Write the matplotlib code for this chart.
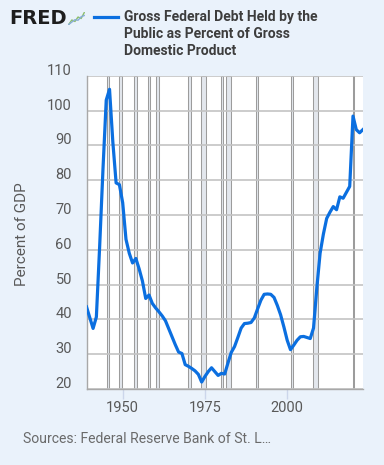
import matplotlib

matplotlib.use("Agg")
import matplotlib.pyplot as plt
from matplotlib.lines import Line2D
from matplotlib.transforms import ScaledTranslation

# annual values
years = list(range(1939, 2024))
debt_pct_gdp = [
    43.6, 40.5, 37.4, 40.7, 61.0, 83.0, 103.0, 106.1, 91.0, 79.2,   # 1939-1948
    78.7, 73.5, 63.0, 59.0, 56.2, 57.5, 54.5, 51.0, 46.0, 47.0,     # 1949-1958
    44.6, 43.3, 42.2, 41.0, 39.6, 37.3, 35.0, 32.7, 30.6, 30.2,     # 1959-1968
    27.0, 26.5, 25.9, 25.2, 24.2, 22.0, 23.6, 25.0, 26.1, 25.0,     # 1969-1978
    23.9, 24.5, 24.3, 27.5, 30.5, 32.2, 34.8, 37.5, 38.8, 38.9,     # 1979-1988
    39.1, 40.4, 43.0, 45.5, 47.2, 47.3, 47.2, 46.3, 44.0, 41.3,     # 1989-1998
    37.8, 34.0, 31.3, 32.6, 34.0, 35.0, 35.1, 34.8, 34.5, 37.5,     # 1999-2008
    49.0, 59.0, 64.5, 69.0, 70.8, 72.4, 71.5, 75.2, 74.8, 76.5,     # 2009-2018
    78.2, 98.4, 94.5, 93.6, 94.5,                                   # 2019-2023
]

# NBER recessions as fractional years (start, end)
recessions = [
    (1945.08, 1945.75), (1948.83, 1949.75), (1953.5, 1954.33),
    (1957.58, 1958.25), (1960.25, 1961.08), (1969.92, 1970.83),
    (1973.83, 1975.17), (1980.0, 1980.5), (1981.5, 1982.83),
    (1990.5, 1991.17), (2001.17, 2001.83), (2007.92, 2009.42),
    (2020.08, 2020.25),
]

y_ticks = list(range(20, 111, 10))
x_ticks = [1950, 1975, 2000]

# little FRED logo sparkline
icon_a = [0, 1.5, 1, 2.5, 2, 4]
icon_b = [0, 0.8, 1.6, 1.4, 2.6, 3]

BG = "#eaf2fb"
LINE = "#0b6fe0"
GRID = "#c3c3c3"
TEXT = "#595959"

plt.rcParams["font.family"] = ["Roboto", "DejaVu Sans"]

W, H = 384, 465
fig = plt.figure(figsize=(W / 100, H / 100), dpi=100, facecolor=BG)


def fx(px):
    return px / W


def fy(py):
    return 1 - py / H


left, right, top, bottom = 86.5, 363.3, 75.7, 389.0
ax = fig.add_axes([fx(left), fy(bottom), (right - left) / W, (bottom - top) / H])
ax.set_facecolor("white")

for start, end in recessions:
    ax.axvspan(start, end, facecolor="#e3e7ed", edgecolor="#9c9c9c", lw=0.75, zorder=1)

ax.plot(years, debt_pct_gdp, color=LINE, lw=2.3, zorder=3, solid_joinstyle="round")

ax.set_xlim(1939, 2023.13)
ax.set_ylim(20, 110)
ax.set_yticks(y_ticks)
ax.set_xticks(x_ticks)
ax.grid(axis="y", color=GRID, lw=1.2)
ax.grid(axis="x", visible=False)

for side in ("top", "right"):
    ax.spines[side].set_visible(False)
for side in ("left", "bottom"):
    ax.spines[side].set_color("#a8a8a8")
    ax.spines[side].set_linewidth(1.0)

ax.tick_params(axis="y", length=0, pad=10.5, labelsize=10.5, labelcolor=TEXT)
ax.tick_params(axis="x", length=7, width=1, color="#ccd6eb", pad=1.5,
               labelsize=10.5, labelcolor=TEXT)
shift = ScaledTranslation(0, 6.5 / 100, fig.dpi_scale_trans)
for lab in ax.get_yticklabels():
    lab.set_transform(lab.get_transform() + shift)

fig.text(fx(22.5), fy(234.5), "Percent of GDP", rotation=90, ha="center",
         va="center", fontsize=11, color=TEXT)

# header: logo + legend entry
fig.text(fx(9.5), fy(18.5), "FRED", fontsize=14, fontweight="bold",
         family="DejaVu Sans", color="#1e1e1e", ha="left", va="center")
icon = fig.add_axes([fx(68), fy(25), fx(17), 13 / H])
icon.plot(icon_a, color="#8dbf6b", lw=1.0)
icon.plot(icon_b, color="#8aaed8", lw=1.0)
icon.set_xticks([])
icon.set_yticks([])
icon.set_facecolor(BG)
for s in icon.spines.values():
    s.set_visible(False)

fig.add_artist(Line2D([fx(94.3), fx(118.3)], [fy(17.3), fy(17.3)],
                      color=LINE, lw=2.3, transform=fig.transFigure))
legend_lines = ["Gross Federal Debt Held by the",
                "Public as Percent of Gross",
                "Domestic Product"]
for i, txt in enumerate(legend_lines):
    fig.text(fx(124), fy(16.7 + 17 * i), txt, fontsize=10, fontweight="bold",
             color="#3d3d3d", ha="left", va="center")

fig.text(fx(23), fy(439), "Sources: Federal Reserve Bank of St. L\u2026",
         fontsize=10.1, color="#6a6a6a", ha="left", va="center")

fig.savefig("out.png", dpi=100, facecolor=BG)
